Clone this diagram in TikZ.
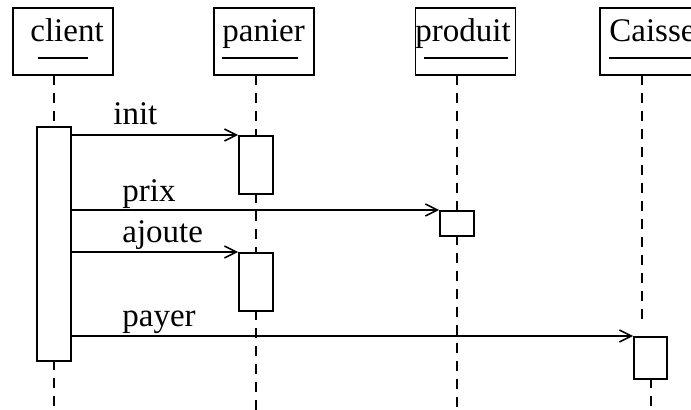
\documentclass[tikz,border=0pt]{standalone}
\usepackage{fontspec}
\setmainfont{Liberation Serif}
\usetikzlibrary{arrows.meta}
\tikzset{
  objbox/.style={draw, thick, minimum width=50pt, minimum height=33.5pt, inner sep=0pt},
  objname/.style={anchor=base west, inner sep=0pt, font=\fontsize{16.5}{19}\selectfont},
  actbox/.style={draw, thick, fill=white, anchor=north, minimum width=17pt, inner sep=0pt},
  msglabel/.style={anchor=base west, inner sep=0pt, font=\fontsize{16.5}{19}\selectfont},
  msg/.style={thick, -{Straight Barb[length=6pt,width=6pt]}},
  lifeline/.style={thick, dash pattern=on 5pt off 4pt}
}
\newcommand{\lifeseg}[3]{\draw[lifeline] ( #1 , #2 ) -- ( #1 , #3 );}
\newcommand{\nameline}[3]{\draw[thick] ( #1 , #3 ) -- ( #2 , #3 );}

\begin{document}
\begin{tikzpicture}[x=0.5pt, y=-0.5pt]
        \useasboundingbox (0,0) rectangle (691,410);
        \clip (0,0) rectangle (691,410);
        % objects
        \node[objbox] (client) at (63,41.5) {};
        \node[objname] (clientname) at (30,42) {client};
        \nameline{38}{88}{58}
        \node[objbox] (panier) at (264,41.5) {};
        \node[objname] (paniername) at (222,42) {panier};
        \nameline{222}{298}{58}
        \node[objbox] (produit) at (465.5,41.5) {};
        \node[objname] (produitname) at (415,42) {produit};
        \nameline{424}{508}{58}
        \node[objbox] (caisse) at (650,41.5) {};
        \node[objname] (caissename) at (609,42) {Caisse};
        \nameline{609}{700}{58}
        % lifelines
        \lifeseg{54}{75}{126}
        \lifeseg{54}{360}{410}
        \lifeseg{256}{75}{135}
        \lifeseg{256}{193}{252}
        \lifeseg{256}{310}{410}
        \lifeseg{457}{75}{210}
        \lifeseg{457}{235}{410}
        \lifeseg{642}{75}{319}
        \lifeseg{651}{378}{410}
        % activations
        \node[actbox, minimum height=117pt] (clientact) at (54,126) {};
        \node[actbox, minimum height=29pt] (panieract1) at (256,135) {};
        \node[actbox, minimum height=12.5pt] (produitact) at (457,210) {};
        \node[actbox, minimum height=29pt] (panieract2) at (256,252) {};
        \node[actbox, minimum width=16.5pt, minimum height=21pt] (caisseact) at (650.5,336) {};
        % messages
        \draw[msg] (clientact.east |- panieract1.north west) -- (panieract1.north west);
        \node[msglabel] (init) at (113,125) {init};
        \draw[msg] (clientact.east |- produitact.north west) -- (produitact.north west);
        \node[msglabel] (prix) at (122,202) {prix};
        \draw[msg] (clientact.east |- panieract2.north west) -- (panieract2.north west);
        \node[msglabel] (ajoute) at (122,243) {ajoute};
        \draw[msg] (clientact.east |- caisseact.north west) -- (caisseact.north west);
        \node[msglabel] (payer) at (122,327) {payer};
    \end{tikzpicture}
\end{document}
